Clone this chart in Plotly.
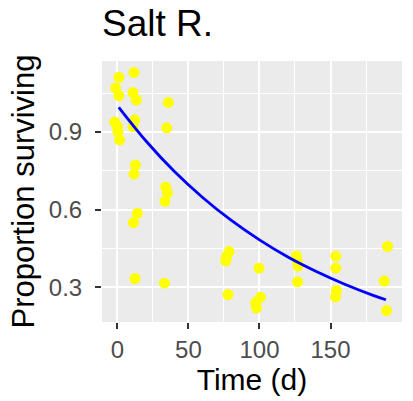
import plotly.graph_objects as go

# Observed (jittered) points
time_d = [1.1, 11.7, -1.2, 1.1, 11.0, 13.4, 35.9, -1.9, 0.0, 0.4, 1.6, 12.2, 11.0, 34.7,
          12.7, 11.7, 34.0, 35.2, 33.5, 14.1, 11.3, 12.4, 33.1,
          78.6, 76.8, 76.3, 77.9,
          99.7, 100.7, 97.4, 97.9,
          126.0, 126.8, 127.2, 126.8,
          153.7, 153.7, 154.2, 153.5,
          190.1, 187.8, 189.4]
prop_surv = [1.111, 1.130, 1.070, 1.040, 1.052, 1.023, 1.014, 0.938, 0.921, 0.901, 0.869, 0.946, 0.921, 0.916,
             0.772, 0.737, 0.687, 0.664, 0.632, 0.586, 0.550, 0.334, 0.316,
             0.438, 0.418, 0.402, 0.272,
             0.374, 0.262, 0.241, 0.220,
             0.421, 0.398, 0.382, 0.321,
             0.420, 0.374, 0.288, 0.263,
             0.458, 0.324, 0.210]

# Fitted decay curve
fit_time = [1, 20, 40, 60, 80, 100, 120, 140, 160, 180, 189]
fit_prop = [0.995, 0.866, 0.748, 0.647, 0.559, 0.483, 0.417, 0.361, 0.312, 0.269, 0.252]

x_ticks = [0, 50, 100, 150]
y_ticks = [0.3, 0.6, 0.9]
y_tick_labels = ["0.3", "0.6", "0.9"]

fig = go.Figure()
fig.add_trace(go.Scatter(x=time_d, y=prop_surv, mode="markers",
                         marker=dict(color="#FFFF00", size=11, line=dict(width=0)),
                         showlegend=False, hoverinfo="skip"))
fig.add_trace(go.Scatter(x=fit_time, y=fit_prop, mode="lines",
                         line=dict(color="#0000FF", width=2.8, shape="spline"),
                         showlegend=False, hoverinfo="skip"))

fig.update_layout(
    width=413, height=401,
    margin=dict(l=102, r=11, t=61, b=79, autoexpand=False),
    paper_bgcolor="white", plot_bgcolor="#EBEBEB",
    font=dict(family="Liberation Sans, Arial, sans-serif", color="black"),
    title=dict(text="Salt R.", font=dict(size=37, color="black"),
               x=102/413, xref="container", xanchor="left",
               y=1 - 10/401, yref="container", yanchor="top"),
)
fig.update_xaxes(
    range=[-10.8, 200.3], tickvals=x_ticks, ticktext=[str(v) for v in x_ticks],
    showgrid=True, gridcolor="white", gridwidth=1.6, zeroline=False,
    minor=dict(dtick=25, tick0=25, showgrid=True, gridcolor="white", gridwidth=0.7),
    ticks="outside", ticklen=6, tickwidth=1.5, tickcolor="#333333",
    tickfont=dict(size=24, color="#4D4D4D"),
    title=dict(text="Time (d)", font=dict(size=30, color="black"), standoff=3),
    showline=False, automargin=False,
)
fig.update_yaxes(
    range=[0.166, 1.174], tickvals=y_ticks, ticktext=y_tick_labels,
    showgrid=True, gridcolor="white", gridwidth=1.6, zeroline=False,
    minor=dict(dtick=0.3, tick0=0.15, showgrid=True, gridcolor="white", gridwidth=0.7),
    ticks="outside", ticklen=6, tickwidth=1.5, tickcolor="#333333",
    tickfont=dict(size=24, color="#4D4D4D"), ticklabelstandoff=8,
    title=dict(text="Proportion surviving", font=dict(size=31, color="black"), standoff=4),
    showline=False, automargin=False,
)

fig.write_html("out.html")
